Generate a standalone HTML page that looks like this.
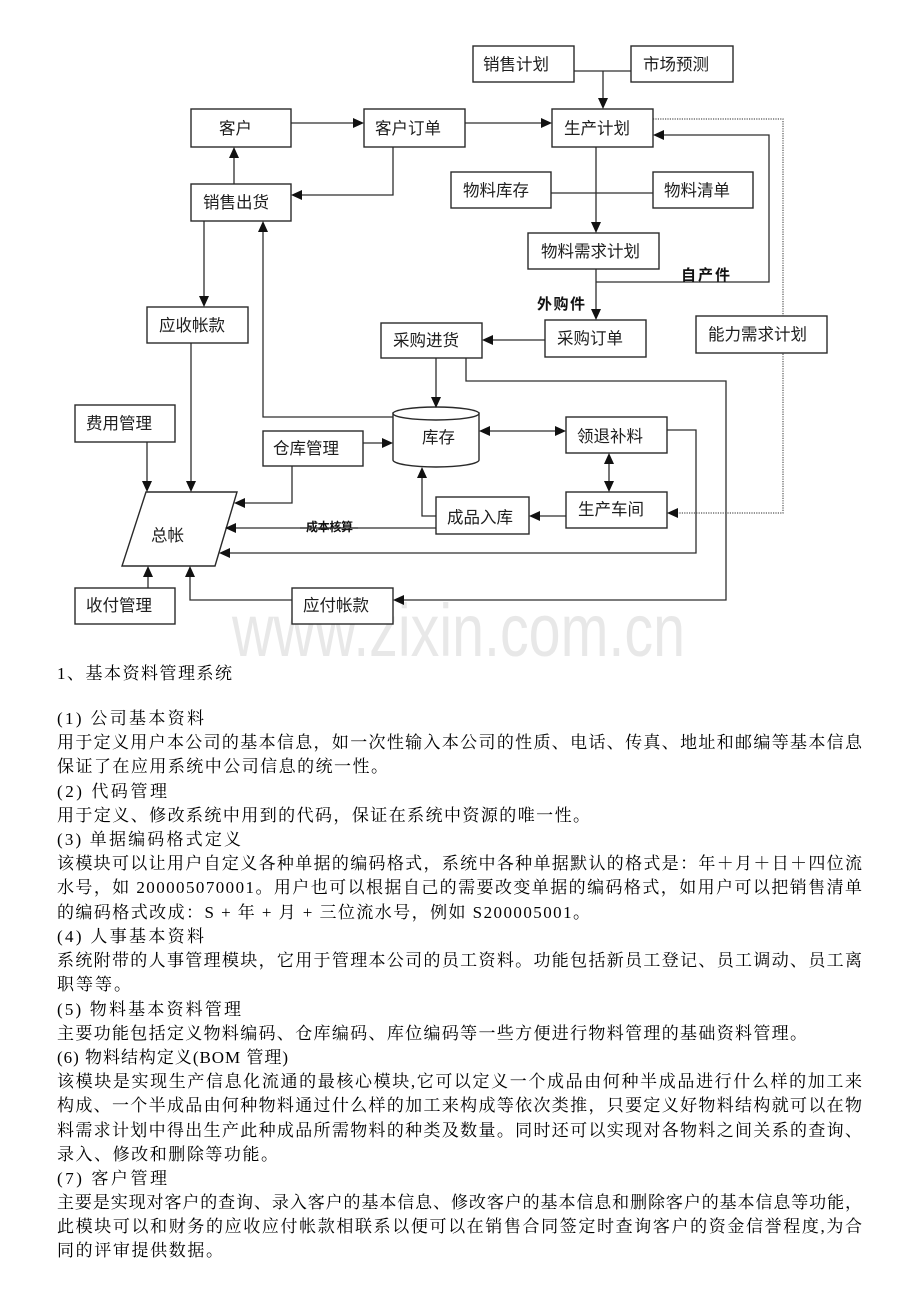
<!DOCTYPE html>
<html>
<head>
<meta charset="utf-8">
<style>
html,body{margin:0;padding:0;background:#fff;}
.wrap{position:relative;width:920px;height:1302px;overflow:hidden;background:#fff;}
svg{position:absolute;left:0;top:0;}
.bx{font-family:"Liberation Sans","Noto Sans CJK SC",sans-serif;font-size:16.5px;fill:#1e1e1e;}
.bd{font-family:"Liberation Sans","Noto Sans CJK SC",sans-serif;font-weight:bold;fill:#111;}
.tx{font-family:"Liberation Serif","Noto Serif CJK SC",serif;font-size:17px;fill:#000;}
</style>
</head>
<body>
<div class="wrap">
<svg width="920" height="1302" viewBox="0 0 920 1302" xmlns="http://www.w3.org/2000/svg">
  <!-- watermark -->
  <text x="232" y="656" font-family="'Liberation Sans',sans-serif" font-size="74" fill="#e8e8e8" textLength="453" lengthAdjust="spacingAndGlyphs">www.zixin.com.cn</text>

  <!-- connector lines -->
  <g fill="none" stroke="#2e2e2e" stroke-width="1.3">
    <path d="M291,123 H353"/>
    <path d="M465,123 H541"/>
    <path d="M574,71 H631 M603,71 V98"/>
    <path d="M393,147 V195 H302"/>
    <path d="M234,184 V158"/>
    <path d="M596,147 V222"/>
    <path d="M551,193 H653"/>
    <path d="M596,269 V309"/>
    <path d="M596,282 H769 V135 H664"/>
    <path d="M545,340 H493"/>
    <path d="M204,221 V296"/>
    <path d="M436,358 V397"/>
    <path d="M393,417 H263 V232"/>
    <path d="M363,443 H382"/>
    <path d="M490,431 H555"/>
    <path d="M609,464 V481"/>
    <path d="M667,430 H696 V553 H230"/>
    <path d="M466,358 V381 H726 V600 H404"/>
    <path d="M292,600 H190 V577"/>
    <path d="M148,588 V577"/>
    <path d="M147,442 V481"/>
    <path d="M191,343 V481"/>
    <path d="M292,466 V503 H245"/>
    <path d="M436,528 H236"/>
    <path d="M566,516 H540"/>
    <path d="M436,516 H422 V478"/>
  </g>
  <path d="M653,119 H783 V513 H678" fill="none" stroke="#555" stroke-width="1.2" stroke-dasharray="1.2,1.2"/>

  <!-- boxes -->
  <g fill="#fff" stroke="#2a2a2a" stroke-width="1.4">
    <rect x="473" y="46" width="101" height="36"/>
    <rect x="631" y="46" width="102" height="36"/>
    <rect x="191" y="109" width="100" height="38"/>
    <rect x="364" y="109" width="101" height="38"/>
    <rect x="552" y="109" width="101" height="38"/>
    <rect x="451" y="172" width="100" height="36"/>
    <rect x="653" y="172" width="100" height="36"/>
    <rect x="191" y="184" width="100" height="37"/>
    <rect x="528" y="233" width="131" height="36"/>
    <rect x="147" y="307" width="101" height="36"/>
    <rect x="545" y="320" width="101" height="37"/>
    <rect x="381" y="323" width="101" height="35"/>
    <rect x="696" y="316" width="131" height="37"/>
    <rect x="75" y="405" width="100" height="37"/>
    <rect x="263" y="431" width="100" height="35"/>
    <rect x="566" y="417" width="101" height="36"/>
    <rect x="566" y="492" width="101" height="36"/>
    <rect x="436" y="497" width="93" height="37"/>
    <rect x="75" y="588" width="100" height="36"/>
    <rect x="292" y="588" width="101" height="36"/>
    <polygon points="146,492 237,492 215,566 122,566"/>
    <!-- cylinder -->
    <path d="M393,413 L393,460 A43,7 0 0 0 479,460 L479,413 Z"/>
    <ellipse cx="436" cy="413.5" rx="43" ry="6.5"/>
  </g>

  <!-- arrowheads -->
  <g fill="#111" stroke="none">
    <polygon points="364,123 353,118 353,128"/>
    <polygon points="552,123 541,118 541,128"/>
    <polygon points="393,443 382,438 382,448"/>
    <polygon points="566,431 555,426 555,436"/>
    <polygon points="291,195 302,190 302,200"/>
    <polygon points="653,135 664,130 664,140"/>
    <polygon points="482,340 493,335 493,345"/>
    <polygon points="479,431 490,426 490,436"/>
    <polygon points="219,553 230,548 230,558"/>
    <polygon points="393,600 404,595 404,605"/>
    <polygon points="234,503 245,498 245,508"/>
    <polygon points="225,528 236,523 236,533"/>
    <polygon points="529,516 540,511 540,521"/>
    <polygon points="667,513 678,508 678,518"/>
    <polygon points="603,109 598,98 608,98"/>
    <polygon points="596,233 591,222 601,222"/>
    <polygon points="596,320 591,309 601,309"/>
    <polygon points="204,307 199,296 209,296"/>
    <polygon points="436,408 431,397 441,397"/>
    <polygon points="609,492 604,481 614,481"/>
    <polygon points="147,492 142,481 152,481"/>
    <polygon points="191,492 186,481 196,481"/>
    <polygon points="234,147 229,158 239,158"/>
    <polygon points="263,221 258,232 268,232"/>
    <polygon points="609,453 604,464 614,464"/>
    <polygon points="190,566 185,577 195,577"/>
    <polygon points="148,566 143,577 153,577"/>
    <polygon points="422,467 417,478 427,478"/>
  </g>

  <!-- box labels -->
  <g class="bx">
    <text x="483" y="70">销售计划</text>
    <text x="643" y="70">市场预测</text>
    <text x="219" y="134">客户</text>
    <text x="375" y="134">客户订单</text>
    <text x="564" y="134">生产计划</text>
    <text x="463" y="196">物料库存</text>
    <text x="664" y="196">物料清单</text>
    <text x="203" y="208">销售出货</text>
    <text x="541" y="257" textLength="99">物料需求计划</text>
    <text x="159" y="331">应收帐款</text>
    <text x="557" y="344">采购订单</text>
    <text x="393" y="346">采购进货</text>
    <text x="708" y="340" textLength="99">能力需求计划</text>
    <text x="86" y="429">费用管理</text>
    <text x="273" y="454">仓库管理</text>
    <text x="422" y="443">库存</text>
    <text x="577" y="442">领退补料</text>
    <text x="578" y="515">生产车间</text>
    <text x="447" y="523">成品入库</text>
    <text x="86" y="611">收付管理</text>
    <text x="303" y="611">应付帐款</text>
    <text x="151" y="541">总帐</text>
  </g>
  <text class="bd" x="681" y="280" font-size="15" textLength="49">自产件</text>
  <text class="bd" x="537" y="309" font-size="15" textLength="48">外购件</text>
  <text class="bd" x="306" y="531" font-size="12" textLength="47">成本核算</text>
  <path d="M300,528 H358" stroke="#2e2e2e" stroke-width="1.3"/>

  <!-- paragraph text -->
  <g class="tx">
    <text x="57" y="679" textLength="175">1、基本资料管理系统</text>
    <text x="57" y="724" textLength="147">(1) 公司基本资料</text>
    <text x="57" y="748" textLength="805">用于定义用户本公司的基本信息，如一次性输入本公司的性质、电话、传真、地址和邮编等基本信息</text>
    <text x="57" y="772" textLength="331">保证了在应用系统中公司信息的统一性。</text>
    <text x="57" y="797" textLength="110">(2) 代码管理</text>
    <text x="57" y="821" textLength="533">用于定义、修改系统中用到的代码，保证在系统中资源的唯一性。</text>
    <text x="57" y="845" textLength="184">(3) 单据编码格式定义</text>
    <text x="57" y="869" textLength="805">该模块可以让用户自定义各种单据的编码格式，系统中各种单据默认的格式是：年＋月＋日＋四位流</text>
    <text x="57" y="893" textLength="805">水号，如 200005070001。用户也可以根据自己的需要改变单据的编码格式，如用户可以把销售清单</text>
    <text x="57" y="918" textLength="533">的编码格式改成：S + 年 + 月 + 三位流水号，例如 S200005001。</text>
    <text x="57" y="942" textLength="147">(4) 人事基本资料</text>
    <text x="57" y="966" textLength="805">系统附带的人事管理模块，它用于管理本公司的员工资料。功能包括新员工登记、员工调动、员工离</text>
    <text x="57" y="990" textLength="74">职等等。</text>
    <text x="57" y="1015" textLength="184">(5) 物料基本资料管理</text>
    <text x="57" y="1039" textLength="750">主要功能包括定义物料编码、仓库编码、库位编码等一些方便进行物料管理的基础资料管理。</text>
    <text x="57" y="1063" textLength="231">(6) 物料结构定义(BOM 管理)</text>
    <text x="57" y="1087" textLength="805">该模块是实现生产信息化流通的最核心模块,它可以定义一个成品由何种半成品进行什么样的加工来</text>
    <text x="57" y="1111" textLength="805">构成、一个半成品由何种物料通过什么样的加工来构成等依次类推，只要定义好物料结构就可以在物</text>
    <text x="57" y="1136" textLength="805">料需求计划中得出生产此种成品所需物料的种类及数量。同时还可以实现对各物料之间关系的查询、</text>
    <text x="57" y="1160" textLength="221">录入、修改和删除等功能。</text>
    <text x="57" y="1184" textLength="110">(7) 客户管理</text>
    <text x="57" y="1208" textLength="805">主要是实现对客户的查询、录入客户的基本信息、修改客户的基本信息和删除客户的基本信息等功能，</text>
    <text x="57" y="1232" textLength="805">此模块可以和财务的应收应付帐款相联系以便可以在销售合同签定时查询客户的资金信誉程度,为合</text>
    <text x="57" y="1256" textLength="166">同的评审提供数据。</text>
  </g>
</svg>
</div>
</body>
</html>
